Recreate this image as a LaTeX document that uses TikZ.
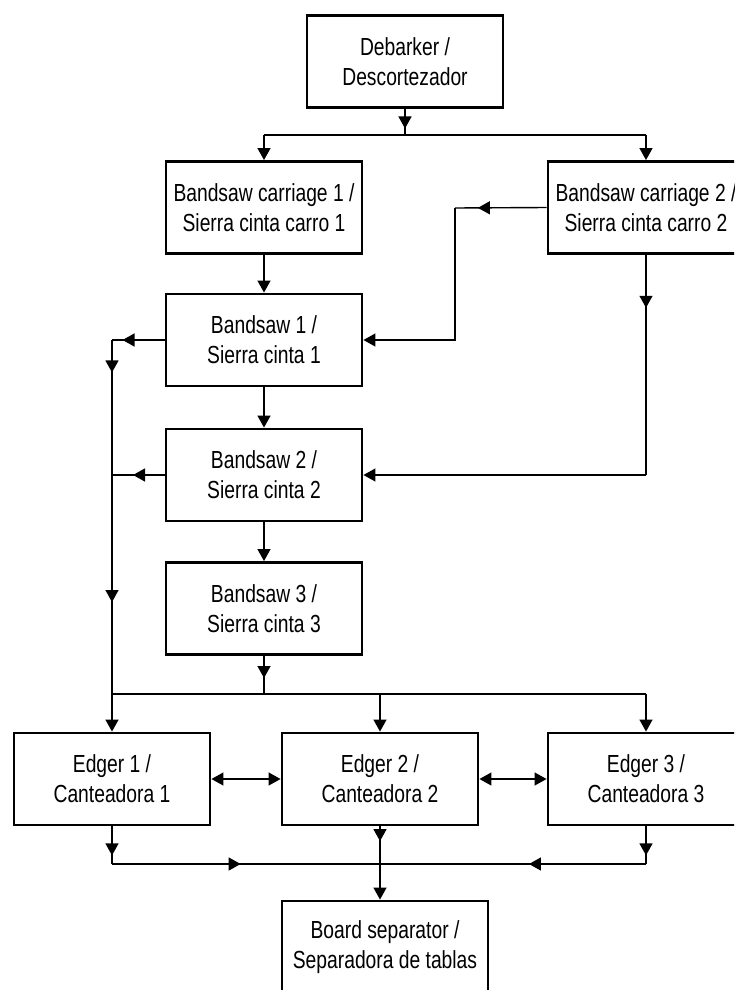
\documentclass[tikz,border=0pt]{standalone}
\usepackage{fontspec}
\setmainfont[FakeStretch=0.78]{Liberation Sans}
\usetikzlibrary{arrows.meta,decorations.markings}
\tikzset{
    unit/.style={draw, line width=2.9pt, minimum width=196pt, minimum height=92pt,
        inner sep=0pt, align=center, font=\fontsize{24.7}{30}\selectfont},
    flow/.style={line width=1.4pt},
    tip/.style={-{Triangle[length=12pt,width=13pt]}},
    both/.style={{Triangle[length=12pt,width=13pt]}-{Triangle[length=12pt,width=13pt]}},
    midtip/.style={postaction=decorate, decoration={markings,
        mark=at position #1 with {\arrow{Triangle[length=12pt,width=13pt]}}}}
}

\begin{document}
\begin{tikzpicture}[x=1pt, y=-1pt]
    \clip (0,0) rectangle (734,990);
    \useasboundingbox (0,0) rectangle (734,990);

    \node[unit] (deb) at (405,61.5) {Debarker /\\Descortezador};
    \node[unit] (bc1) at (264,207.5) {Bandsaw carriage 1 /\\Sierra cinta carro 1};
    \node[unit] (bc2) at (646,207.5) {Bandsaw carriage 2 /\\Sierra cinta carro 2};
    \node[unit] (bs1) at (264,340) {Bandsaw 1 /\\Sierra cinta 1};
    \node[unit] (bs2) at (264,475) {Bandsaw 2 /\\Sierra cinta 2};
    \node[unit] (bs3) at (264,608.5) {Bandsaw 3 /\\Sierra cinta 3};
    \node[unit] (ed1) at (112,779) {Edger 1 /\\Canteadora 1};
    \node[unit] (ed2) at (380,779) {Edger 2 /\\Canteadora 2};
    \node[unit] (ed3) at (646,779) {Edger 3 /\\Canteadora 3};
    \node[unit, minimum width=206pt] (sep) at (385,947) {Board separator /\\Separadora de tablas};

    \coordinate (split) at (405,135);
    \coordinate (bend) at (455,208);
    \coordinate (feed) at (264,694);
    \coordinate (lhs) at (112,864);
    \coordinate (rhs) at (646,864);
    \coordinate (join) at (380,864);

    \draw[flow, midtip=0.75] (deb.south) -- (split);
    \draw[flow] (bc1.north |- split) -- (bc2.north |- split);
    \foreach \n in {bc1,bc2}
        \draw[flow, tip] (\n.north |- split) -- (\n.north);
    \draw[flow, tip] (bc1) -- (bs1);
    \draw[flow, midtip=0.75] (bc2.west) -- (bend);
    \draw[flow, tip] (bend) |- (bs1.east);
    \draw[flow, midtip=0.24] (bc2.south) -- (bc2.south |- bs2.east);
    \draw[flow, tip] (bc2.south |- bs2.east) -- (bs2.east);
    \draw[flow, tip] (bs1) -- (bs2);
    \draw[flow, tip] (bs2) -- (bs3);

    \draw[flow, midtip=0.8] (bs1.west) -- (bs1.west -| ed1.north);
    \draw[flow, midtip=0.6] (bs2.west) -- (bs2.west -| ed1.north);
    \draw[flow, midtip=0.24] (bs1.west -| ed1.north) -- (bs2.west -| ed1.north);
    \draw[flow, midtip=0.58] (bs2.west -| ed1.north) -- (feed -| ed1.north);
    \draw[flow, midtip=0.58] (bs3.south) -- (feed);
    \draw[flow] (feed -| ed1.north) -- (feed -| ed3.north);
    \foreach \n in {ed1,ed2,ed3}
        \draw[flow, tip] (feed -| \n.north) -- (\n.north);

    \draw[flow, both] (ed1.east) -- (ed2.west);
    \draw[flow, both] (ed2.east) -- (ed3.west);

    \draw[flow, midtip=0.77] (ed1.south) -- (lhs);
    \draw[flow, midtip=0.77] (ed3.south) -- (rhs);
    \draw[flow, midtip=0.48] (lhs) -- (join);
    \draw[flow, midtip=0.44] (rhs) -- (join);
    \draw[flow, midtip=0.39] (ed2.south) -- (join);
    \draw[flow, tip] (join) -- (join |- sep.north);
\end{tikzpicture}
\end{document}
